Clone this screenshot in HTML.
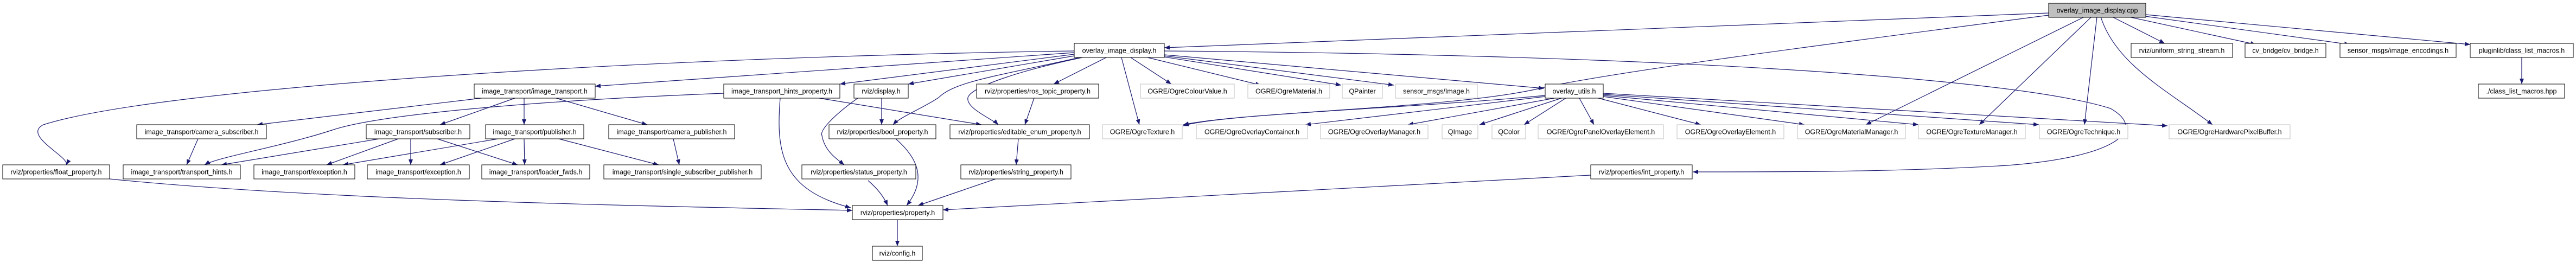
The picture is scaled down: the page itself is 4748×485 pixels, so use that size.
<!DOCTYPE html>
<html><head><meta charset="utf-8"><style>
html,body{margin:0;padding:0;background:#fff;}
svg{display:block;}
text{font-family:"Liberation Sans",Arial,sans-serif;font-size:12.5px;fill:#000;text-anchor:middle;}
.e{fill:none;stroke:#191970;stroke-width:1.2;marker-end:url(#a);}
.n{fill:#fff;stroke:#000;stroke-width:1;}
.g{fill:#fff;stroke:#bfbfbf;stroke-width:1;}
</style></head><body>
<svg width="4748" height="485" viewBox="0 0 4748 485" xmlns="http://www.w3.org/2000/svg">
<defs><marker id="a" markerWidth="10" markerHeight="8" refX="10" refY="4" orient="auto" markerUnits="userSpaceOnUse"><path d="M0,0L10,4L0,8z" fill="#191970"/></marker></defs>

<!-- edges from cpp -->
<path class="e" d="M3776,24 L2146,88"/>
<path class="e" d="M3776,28 C3300,90 3000,130 2850,160 C2700,200 2300,205 2181,230"/>
<path class="e" d="M3842,31 L3439,230"/>
<path class="e" d="M3855,31 L3648,230"/>
<path class="e" d="M3865,31 L3842,230"/>
<path class="e" d="M3872,31 C3900,120 4000,170 4078,230"/>
<path class="e" d="M3893,31 L3990,80"/>
<path class="e" d="M3923,31 L4158,82"/>
<path class="e" d="M3954,30 L4331,82"/>
<path class="e" d="M3955,27 L4553,82"/>
<path class="e" d="M4648,106 L4648,155"/>

<!-- edges from overlay_image_display.h -->
<path class="e" d="M1980,94 C1200,105 300,160 80,230 C40,250 130,290 122,304"/>
<path class="e" d="M1980,97 L1097,159"/>
<path class="e" d="M1980,100 L1548,155"/>
<path class="e" d="M1980,103 L1674,155"/>
<path class="e" d="M1990,106 C1840,140 1760,150 1730,180 C1700,200 1660,215 1646,230"/>
<path class="e" d="M1995,106 C1880,130 1790,160 1784,180 C1780,200 1830,220 1840,230"/>
<path class="e" d="M2039,106 L1942,155"/>
<path class="e" d="M2067,106 L2100,230"/>
<path class="e" d="M2084,106 L2159,155"/>
<path class="e" d="M2115,106 L2324,157"/>
<path class="e" d="M2146,105 L2472,157"/>
<path class="e" d="M2146,103 L2569,157"/>
<path class="e" d="M2146,101 L2846,163"/>
<path class="e" d="M2146,94 C3000,100 3700,140 3890,200 C3960,240 3900,290 3700,305 C3500,317 3300,317 3120,317"/>

<!-- overlay_utils -->
<path class="e" d="M2848,176 C2600,200 2250,210 2181,232"/>
<path class="e" d="M2848,178 L2406,230"/>
<path class="e" d="M2865,181 L2595,230"/>
<path class="e" d="M2878,181 L2727,230"/>
<path class="e" d="M2886,181 L2809,230"/>
<path class="e" d="M2911,181 L2938,230"/>
<path class="e" d="M2946,181 L3135,230"/>
<path class="e" d="M2955,178 L3326,230"/>
<path class="e" d="M2955,176 L3536,230"/>
<path class="e" d="M2955,174 L3758,230"/>
<path class="e" d="M2955,172 L3995,232"/>

<!-- left side -->
<path class="e" d="M887,181 L474,230"/>
<path class="e" d="M949,181 L811,230"/>
<path class="e" d="M966,181 L966,230"/>
<path class="e" d="M1025,181 L1193,230"/>
<path class="e" d="M1334,172 C1000,185 700,210 612,240 C520,270 400,290 377,304"/>
<path class="e" d="M1438,181 C1430,280 1440,350 1568,383"/>
<path class="e" d="M1510,181 L1809,230"/>
<path class="e" d="M1625,181 L1625,230"/>
<path class="e" d="M1581,181 C1540,210 1510,240 1515,250 C1520,280 1545,295 1556,304"/>
<path class="e" d="M365,256 L344,304"/>
<path class="e" d="M699,256 L408,304"/>
<path class="e" d="M734,256 L602,304"/>
<path class="e" d="M757,256 L757,304"/>
<path class="e" d="M806,256 L954,304"/>
<path class="e" d="M918,256 L632,304"/>
<path class="e" d="M949,256 L811,304"/>
<path class="e" d="M966,256 L967,304"/>
<path class="e" d="M1030,256 L1214,304"/>
<path class="e" d="M1241,256 L1252,304"/>
<path class="e" d="M202,330 C600,370 1200,380 1571,388"/>
<path class="e" d="M1651,256 C1690,290 1710,330 1671,379"/>
<path class="e" d="M1600,333 C1620,350 1630,365 1636,379"/>
<path class="e" d="M1835,330 L1692,379"/>
<path class="e" d="M2932,323 L1738,387"/>
<path class="e" d="M1906,181 L1889,230"/>
<path class="e" d="M1877,256 L1873,304"/>
<path class="e" d="M1654,405 L1654,454"/>

<!-- L0 -->
<rect x="3776" y="6" width="179" height="26" fill="#bfbfbf" stroke="#000"/><text x="3865.5" y="23.5">overlay_image_display.cpp</text>
<!-- L1 -->
<rect class="n" x="1980" y="80" width="166" height="26"/><text x="2063" y="97.5">overlay_image_display.h</text>
<rect class="n" x="3928" y="80" width="187" height="26"/><text x="4021.5" y="97.5">rviz/uniform_string_stream.h</text>
<rect class="n" x="4138" y="80" width="149" height="26"/><text x="4212.5" y="97.5">cv_bridge/cv_bridge.h</text>
<rect class="n" x="4313" y="80" width="214" height="26"/><text x="4420" y="97.5">sensor_msgs/image_encodings.h</text>
<rect class="n" x="4553" y="80" width="190" height="26"/><text x="4648" y="97.5">pluginlib/class_list_macros.h</text>
<!-- L2 -->
<rect class="n" x="874" y="155" width="223" height="26"/><text x="985.5" y="172.5">image_transport/image_transport.h</text>
<rect class="n" x="1334" y="155" width="214" height="26"/><text x="1441" y="172.5">image_transport_hints_property.h</text>
<rect class="n" x="1574" y="155" width="100" height="26"/><text x="1624" y="172.5">rviz/display.h</text>
<rect class="n" x="1800" y="155" width="225" height="26"/><text x="1912.5" y="172.5">rviz/properties/ros_topic_property.h</text>
<rect class="g" x="2102" y="155" width="173" height="26"/><text x="2188.5" y="172.5">OGRE/OgreColourValue.h</text>
<rect class="g" x="2300" y="155" width="151" height="26"/><text x="2375.5" y="172.5">OGRE/OgreMaterial.h</text>
<rect class="g" x="2474" y="155" width="74" height="26"/><text x="2511" y="172.5">QPainter</text>
<rect class="g" x="2572" y="155" width="151" height="26"/><text x="2647.5" y="172.5">sensor_msgs/Image.h</text>
<rect class="n" x="2848" y="155" width="107" height="26"/><text x="2901.5" y="172.5">overlay_utils.h</text>
<rect class="n" x="4568" y="155" width="159" height="26"/><text x="4647.5" y="172.5">./class_list_macros.hpp</text>
<!-- L3 -->
<rect class="n" x="252" y="230" width="239" height="26"/><text x="371.5" y="247.5">image_transport/camera_subscriber.h</text>
<rect class="n" x="675" y="230" width="191" height="26"/><text x="770.5" y="247.5">image_transport/subscriber.h</text>
<rect class="n" x="895" y="230" width="181" height="26"/><text x="985.5" y="247.5">image_transport/publisher.h</text>
<rect class="n" x="1122" y="230" width="232" height="26"/><text x="1238" y="247.5">image_transport/camera_publisher.h</text>
<rect class="n" x="1528" y="230" width="197" height="26"/><text x="1626.5" y="247.5">rviz/properties/bool_property.h</text>
<rect class="n" x="1751" y="230" width="257" height="26"/><text x="1879.5" y="247.5">rviz/properties/editable_enum_property.h</text>
<rect class="g" x="2032" y="230" width="147" height="26"/><text x="2105.5" y="247.5">OGRE/OgreTexture.h</text>
<rect class="g" x="2205" y="230" width="205" height="26"/><text x="2307.5" y="247.5">OGRE/OgreOverlayContainer.h</text>
<rect class="g" x="2434" y="230" width="198" height="26"/><text x="2533" y="247.5">OGRE/OgreOverlayManager.h</text>
<rect class="g" x="2658" y="230" width="66" height="26"/><text x="2691" y="247.5">QImage</text>
<rect class="g" x="2750" y="230" width="62" height="26"/><text x="2781" y="247.5">QColor</text>
<rect class="g" x="2835" y="230" width="231" height="26"/><text x="2950.5" y="247.5">OGRE/OgrePanelOverlayElement.h</text>
<rect class="g" x="3091" y="230" width="197" height="26"/><text x="3189.5" y="247.5">OGRE/OgreOverlayElement.h</text>
<rect class="g" x="3313" y="230" width="199" height="26"/><text x="3412.5" y="247.5">OGRE/OgreMaterialManager.h</text>
<rect class="g" x="3536" y="230" width="197" height="26"/><text x="3634.5" y="247.5">OGRE/OgreTextureManager.h</text>
<rect class="g" x="3759" y="230" width="163" height="26"/><text x="3840.5" y="247.5">OGRE/OgreTechnique.h</text>
<rect class="g" x="3998" y="230" width="223" height="26"/><text x="4109.5" y="247.5">OGRE/OgreHardwarePixelBuffer.h</text>
<!-- L4 -->
<rect class="n" x="5" y="304" width="197" height="26"/><text x="103.5" y="321.5">rviz/properties/float_property.h</text>
<rect class="n" x="227" y="304" width="216" height="26"/><text x="335" y="321.5">image_transport/transport_hints.h</text>
<rect class="n" x="468" y="304" width="186" height="26"/><text x="561" y="321.5">image_transport/exception.h</text>
<rect class="n" x="677" y="304" width="188" height="26"/><text x="771" y="321.5">image_transport/exception.h</text>
<rect class="n" x="888" y="304" width="199" height="26"/><text x="987.5" y="321.5">image_transport/loader_fwds.h</text>
<rect class="n" x="1113" y="304" width="290" height="26"/><text x="1258" y="321.5">image_transport/single_subscriber_publisher.h</text>
<rect class="n" x="1478" y="304" width="210" height="26"/><text x="1583" y="321.5">rviz/properties/status_property.h</text>
<rect class="n" x="1771" y="304" width="203" height="26"/><text x="1872.5" y="321.5">rviz/properties/string_property.h</text>
<rect class="n" x="2932" y="304" width="187" height="26"/><text x="3025.5" y="321.5">rviz/properties/int_property.h</text>
<!-- L5/L6 -->
<rect class="n" x="1571" y="379" width="167" height="26"/><text x="1654.5" y="396.5">rviz/properties/property.h</text>
<rect class="n" x="1608" y="454" width="92" height="26"/><text x="1654" y="471.5">rviz/config.h</text>
</svg>
</body></html>
